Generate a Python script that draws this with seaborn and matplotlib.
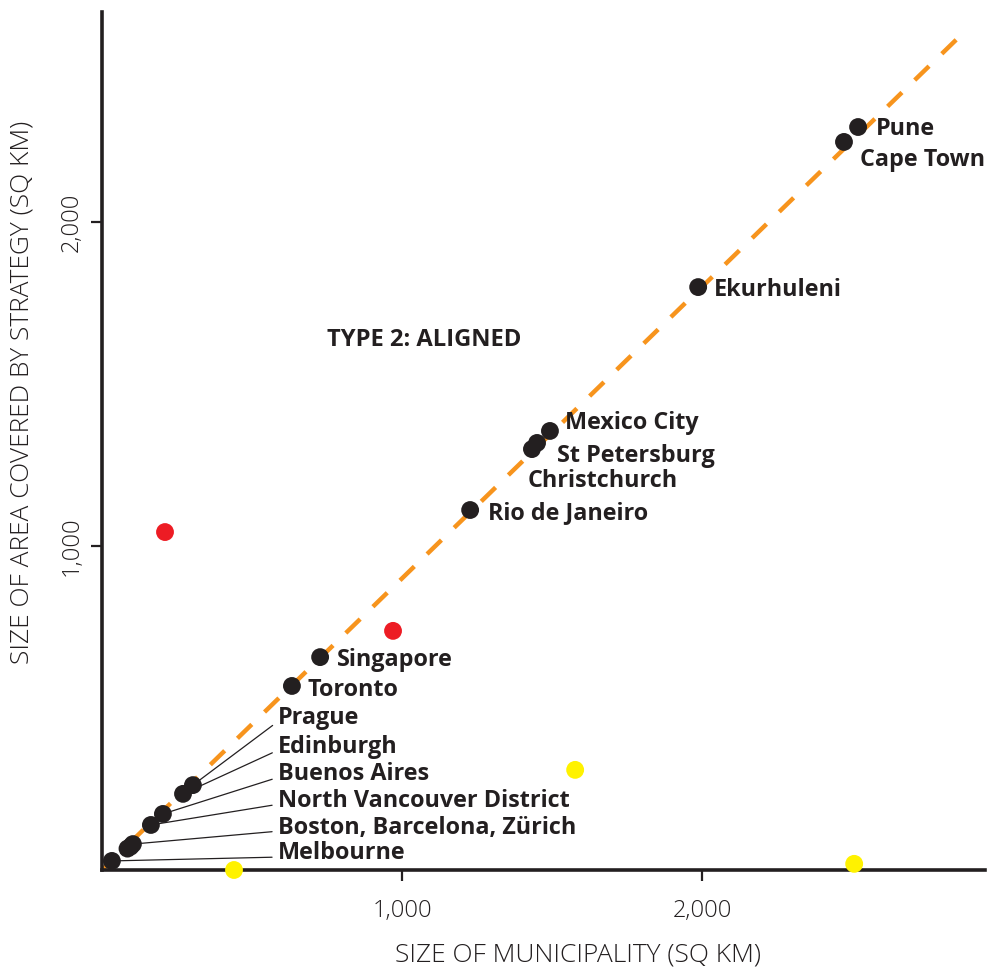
import numpy as np
import pandas as pd
import matplotlib
matplotlib.use("Agg")
import matplotlib.pyplot as plt
import seaborn as sns

# --- data (sq km) ---
city_names = ["Pune", "Cape Town", "Ekurhuleni", "Mexico City", "St Petersburg",
              "Christchurch", "Rio de Janeiro", "Singapore", "Toronto",
              "Prague", "Edinburgh", "Buenos Aires", "North Vancouver District",
              "Boston", "Barcelona", "Zürich", "Melbourne"]
city_muni = [2520, 2473, 1987, 1493, 1450, 1433, 1227, 727, 633,
             303, 270, 203, 163, 103, 95, 85, 33]
city_strat = [2293, 2247, 1799, 1355, 1318, 1299, 1111, 657, 568,
              262, 235, 173, 139, 80, 72, 66, 28]

red_muni = [210, 970]
red_strat = [1043, 738]
yellow_muni = [440, 1577, 2507]
yellow_strat = [0, 309, 19]

trend_x = [0, 2850]
trend_y = [0, 2565]

# labels placed right next to their dots (offset in pixels)
direct_labels = ["Pune", "Cape Town", "Ekurhuleni", "Mexico City", "St Petersburg",
                 "Christchurch", "Rio de Janeiro", "Singapore", "Toronto"]
direct_offsets = [(18, -2), (16, -18), (16, -3), (15, 8), (20, -13),
                  (-4, -32), (18, -3), (17, -3), (16, -4)]

# labels with leader lines: (label text, city it points to)
leader_labels = [("Prague", "Prague"), ("Edinburgh", "Edinburgh"),
                 ("Buenos Aires", "Buenos Aires"),
                 ("North Vancouver District", "North Vancouver District"),
                 ("Boston, Barcelona, Zürich", "Boston"),
                 ("Melbourne", "Melbourne")]
leader_text_y = [470, 381, 297, 214, 131, 51]
leader_text_x = 587

INK = "#231f20"
ORANGE = "#f7941d"

df = pd.concat([
    pd.DataFrame({"muni": city_muni, "strat": city_strat, "group": "aligned"}),
    pd.DataFrame({"muni": red_muni, "strat": red_strat, "group": "red"}),
    pd.DataFrame({"muni": yellow_muni, "strat": yellow_strat, "group": "yellow"}),
], ignore_index=True)

sns.set_style("white")
plt.rcParams["font.family"] = ["Open Sans", "DejaVu Sans"]

fig = plt.figure(figsize=(9.93, 9.69), dpi=100)
ax = fig.add_axes([102 / 993, 99 / 969, (985 - 102) / 993, (870 - 12) / 969])

sns.lineplot(x=trend_x, y=trend_y, ax=ax, color=ORANGE, lw=3.2,
             dashes=False, zorder=2)
ax.lines[0].set_dashes([4.5, 4.0])
ax.lines[0].set_dash_capstyle("butt")

sns.scatterplot(data=df, x="muni", y="strat", hue="group", ax=ax,
                palette={"aligned": INK, "red": "#ed1c24", "yellow": "#fff200"},
                s=165, linewidth=0, legend=False, zorder=4, clip_on=False)

ax.set_xlim(0, 2943)
ax.set_ylim(0, 2648)

lookup = dict(zip(city_names, zip(city_muni, city_strat)))

LABEL_SIZE = 16.8

for name, off in zip(direct_labels, direct_offsets):
    ax.annotate(name, xy=lookup[name], xytext=off, textcoords="offset pixels",
                ha="left", va="center", fontsize=LABEL_SIZE, fontweight="bold",
                color=INK, zorder=5)

for (label, target), ty in zip(leader_labels, leader_text_y):
    ax.annotate(label, xy=lookup[target], xytext=(leader_text_x, ty),
                textcoords="data", ha="left", va="center", fontsize=LABEL_SIZE,
                fontweight="bold", color=INK, zorder=5,
                arrowprops=dict(arrowstyle="-", color=INK, lw=0.9,
                                shrinkA=2, shrinkB=0, relpos=(0, 0.35)))

ax.text(750, 1636, "TYPE 2: ALIGNED", fontsize=LABEL_SIZE + 0.3,
        fontweight="bold", color=INK, va="center")

for side in ["top", "right"]:
    ax.spines[side].set_visible(False)
for side in ["left", "bottom"]:
    ax.spines[side].set_linewidth(2.6)
    ax.spines[side].set_color(INK)
    ax.spines[side].set_zorder(3)

ax.set_xticks([1000, 2000])
ax.set_xticklabels(["1,000", "2,000"])
ax.set_yticks([1000, 2000])
ax.set_yticklabels(["1,000", "2,000"], rotation=90, va="center")
ax.tick_params(axis="both", direction="out", length=8, width=1.6, color=INK,
               labelsize=17, labelcolor=INK, bottom=True, left=True)
ax.tick_params(axis="x", pad=13)
ax.tick_params(axis="y", pad=5)
for lab in ax.get_xticklabels() + ax.get_yticklabels():
    lab.set_fontweight("light")

ax.set_xlabel("SIZE OF MUNICIPALITY (SQ KM)", fontsize=19,
              fontweight="light", color=INK)
ax.xaxis.set_label_coords(0.539, -0.099)
ax.xaxis.label.set_va("center")
ax.set_ylabel("SIZE OF AREA COVERED BY STRATEGY (SQ KM)", fontsize=19,
              fontweight="light", color=INK)
ax.yaxis.set_label_coords(-0.091, 0.557)
ax.yaxis.label.set_va("center")

fig.savefig("out.png", dpi=100)
